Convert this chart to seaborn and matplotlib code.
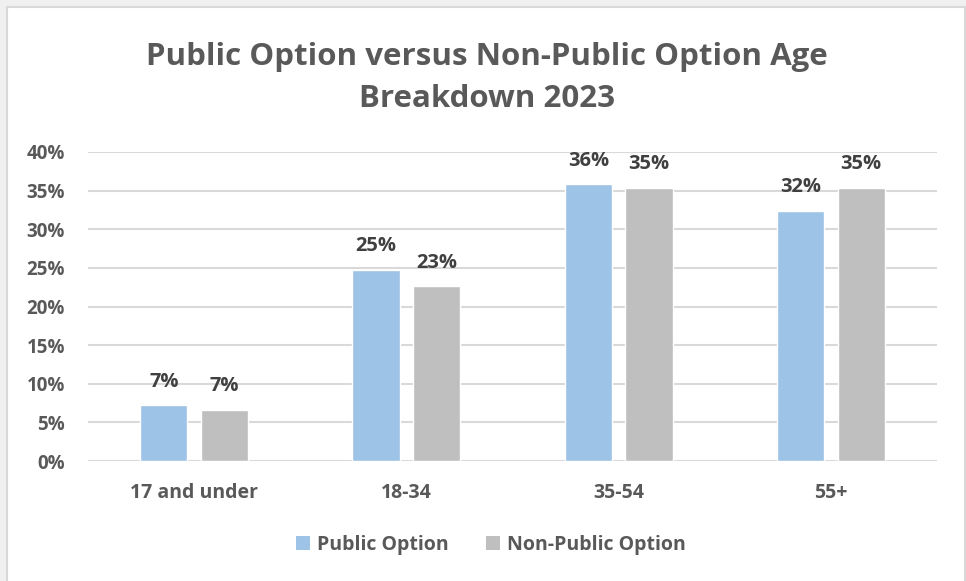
import matplotlib
matplotlib.use("Agg")
import matplotlib.pyplot as plt
from matplotlib.patches import Rectangle, Patch
from matplotlib.lines import Line2D
import seaborn as sns
import pandas as pd

# Age breakdown of enrollees, share of each group
age_groups = ["17 and under", "18-34", "35-54", "55+"]
public_option = [0.072, 0.247, 0.358, 0.324]
non_public_option = [0.066, 0.226, 0.353, 0.354]
series_names = ["Public Option", "Non-Public Option"]
y_ticks = [0.00, 0.05, 0.10, 0.15, 0.20, 0.25, 0.30, 0.35, 0.40]
title_text = "Public Option versus Non-Public Option Age\nBreakdown 2023"

colors = ["#9DC3E6", "#BFBFBF"]
text_gray = "#595959"
label_dark = "#404040"
grid_gray = "#D9D9D9"

df = pd.DataFrame({
    "Age": age_groups * 2,
    "Share": public_option + non_public_option,
    "Series": [series_names[0]] * len(age_groups) + [series_names[1]] * len(age_groups),
})

sns.set_theme(style="white")
plt.rcParams["font.family"] = ["Open Sans", "DejaVu Sans"]
plt.rcParams["font.weight"] = "bold"

fig = plt.figure(figsize=(9.66, 5.81), dpi=100)
ax = fig.add_axes([0.0911, 0.2065, 0.970 - 0.0911, 0.7384 - 0.2065])

sns.barplot(data=df, x="Age", y="Share", hue="Series", order=age_groups,
            hue_order=series_names, palette=colors, width=0.572, gap=0.224,
            saturation=1, legend=False, ax=ax, errorbar=None)

for container in ax.containers:
    ax.bar_label(container, fmt=lambda v: f"{v:.0%}", padding=10,
                 fontsize=14.5, fontweight="bold", color=label_dark)

ax.set_ylim(0, 0.40)
ax.set_xlim(-0.5, len(age_groups) - 0.5)
ax.set_yticks(y_ticks)
ax.set_yticklabels([f"{t:.0%}" for t in y_ticks])
ax.yaxis.grid(True, color=grid_gray, linewidth=1.5)
ax.set_axisbelow(True)
for side in ["top", "right", "left", "bottom"]:
    ax.spines[side].set_visible(False)
ax.tick_params(axis="y", length=0, pad=16.5, labelsize=13.5, labelcolor=text_gray)
ax.tick_params(axis="x", length=0, pad=16, labelsize=14, labelcolor=text_gray)
for lbl in ax.get_xticklabels() + ax.get_yticklabels():
    lbl.set_fontweight("bold")
ax.set_xlabel("")
ax.set_ylabel("")

fig.text(0.504, 0.866, title_text, ha="center", va="center", fontsize=22.5,
         fontweight="bold", color=text_gray, linespacing=1.55)

handles = [Patch(facecolor=c, edgecolor="none", label=n) for c, n in zip(colors, series_names)]
fig.legend(handles=handles, loc="center", bbox_to_anchor=(0.508, 0.062), ncol=2,
           frameon=False, handlelength=0.75, handleheight=0.75, handletextpad=0.35,
           columnspacing=1.9, prop={"size": 14, "weight": "bold"},
           labelcolor=text_gray)

# Window frame around the chart
W, H = 966, 581
fig.patches.append(Rectangle((0, 0), 7 / W, 1, transform=fig.transFigure,
                             facecolor="#F0F0F0", edgecolor="none", zorder=0))
fig.patches.append(Rectangle((0, 1 - 7 / H), 1, 7 / H, transform=fig.transFigure,
                             facecolor="#F0F0F0", edgecolor="none", zorder=0))
fig.lines.append(Line2D([7 / W, 7 / W], [0, 1 - 7 / H], transform=fig.transFigure,
                        color="#D9D9D9", linewidth=1.5))
fig.lines.append(Line2D([7 / W, 1], [1 - 7 / H, 1 - 7 / H], transform=fig.transFigure,
                        color="#D9D9D9", linewidth=1.5))
fig.lines.append(Line2D([1 - 1 / W, 1 - 1 / W], [0, 1 - 7 / H], transform=fig.transFigure,
                        color="#D9D9D9", linewidth=1.5))

fig.savefig("out.png", dpi=100, facecolor="white")
